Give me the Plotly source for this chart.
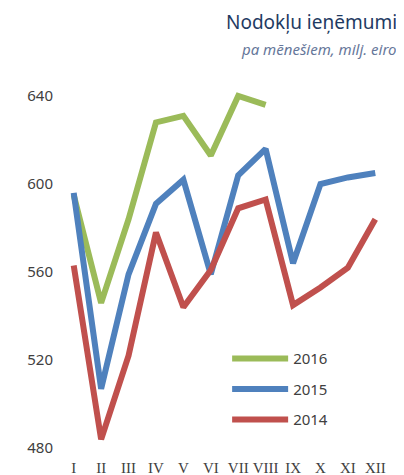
import plotly.graph_objects as go

months = ["I", "II", "III", "IV", "V", "VI", "VII", "VIII", "IX", "X", "XI", "XII"]
y2016 = [595, 546, 584, 628, 631, 613, 640, 636]
y2015 = [596, 507, 559, 591, 602, 559, 604, 616, 564, 600, 603, 605]
y2014 = [563, 484, 522, 578, 544, 561, 589, 593, 545, 553, 562, 584]
yticks = [480, 520, 560, 600, 640]

series = [("2016", y2016, "#9BBB59"), ("2015", y2015, "#4F81BD"), ("2014", y2014, "#C0504D")]

fig = go.Figure()
for name, vals, color in series:
    fig.add_trace(go.Scatter(
        x=months[:len(vals)], y=vals, name=name, mode="lines",
        line=dict(color=color, width=6), legendgroup=name,
    ))

# page body has an 8px default margin, so the figure is 8px smaller and shifted
fig.update_layout(
    width=396, height=467,
    margin=dict(l=52, r=15, t=77, b=18, autoexpand=False),
    paper_bgcolor="white", plot_bgcolor="white",
    font=dict(family="Noto Sans", color="#404040"),
    showlegend=True,
    legend=dict(
        x=0.508, y=0.3085, xanchor="left", yanchor="top",
        font=dict(size=15, color="#404040"),
        itemwidth=56, tracegroupgap=8,
        bgcolor="rgba(0,0,0,0)",
    ),
    xaxis=dict(
        type="category", range=[-0.5, 11.5], showgrid=False, showline=False, automargin=False,
        zeroline=False, ticks="", tickfont=dict(family="Liberation Serif", size=15, color="#404040"),
    ),
    yaxis=dict(
        range=[476, 645], tickvals=yticks, showgrid=False, showline=False, zeroline=False,
        automargin=False,
        ticks="", tickfont=dict(size=15, color="#404040"), ticklabelstandoff=6,
    ),
    annotations=[
        dict(text="Nodokļu ieņēmumi", xref="paper", yref="paper", x=1.03, y=1.17,
             xanchor="right", yanchor="middle", showarrow=False,
             font=dict(size=19, color="#1F3B63")),
        dict(text="<i>pa mēnešiem, milj. eiro</i>", xref="paper", yref="paper", x=1.03, y=1.097,
             xanchor="right", yanchor="middle", showarrow=False,
             font=dict(size=15, color="#66779A")),
    ],
)

fig.write_html("out.html")
